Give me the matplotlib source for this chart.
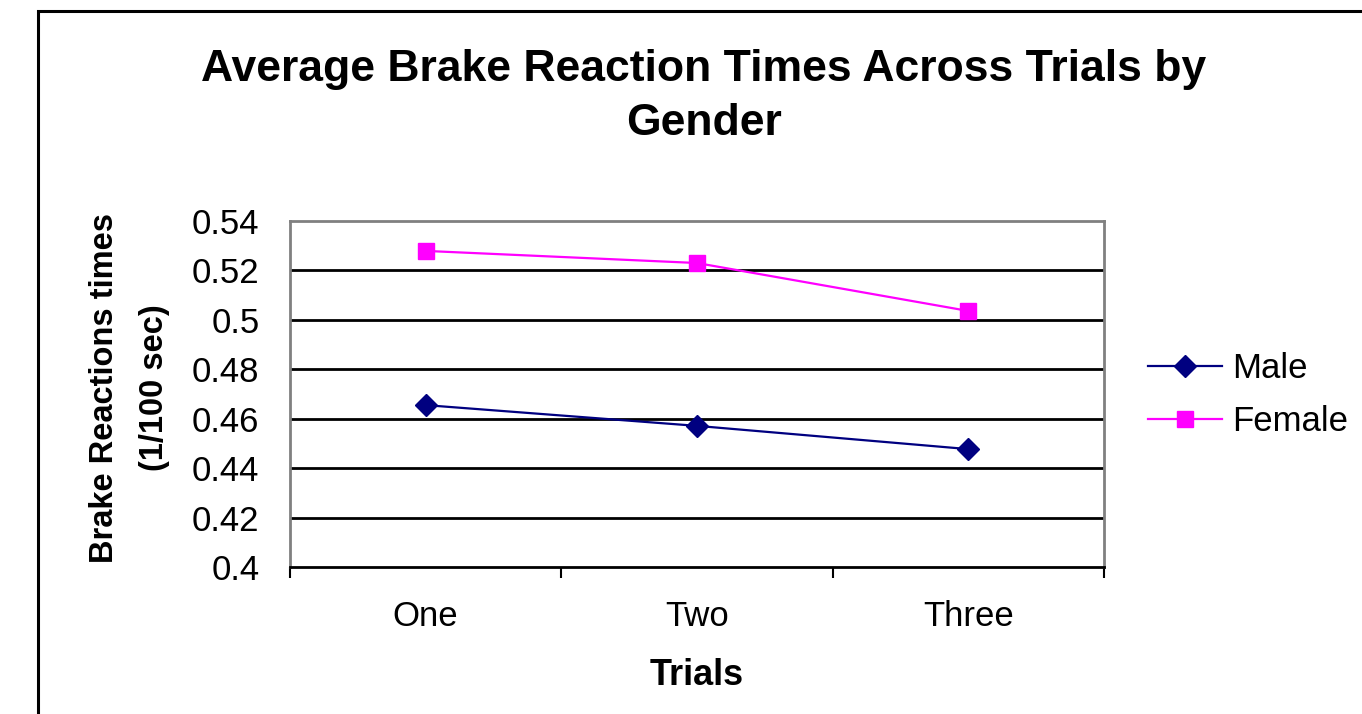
import matplotlib.pyplot as plt
from matplotlib.patches import Rectangle

plt.rcParams["font.family"] = ["Liberation Sans", "DejaVu Sans"]

trials = ["One", "Two", "Three"]
male = [0.4655, 0.4571, 0.4477]
female = [0.5279, 0.5230, 0.5036]
y_ticks = [0.4, 0.42, 0.44, 0.46, 0.48, 0.5, 0.52, 0.54]
y_labels = ["0.4", "0.42", "0.44", "0.46", "0.48", "0.5", "0.52", "0.54"]

fig = plt.figure(figsize=(13.62, 7.14), dpi=100)
W, H = 1362, 714

# outer chart border (cut off by the image edge)
fig.patches.append(Rectangle((38 / W, -0.1), 1.2, (H - 11) / H + 0.1, transform=fig.transFigure,
                             fill=False, edgecolor="black", linewidth=2.2))

ax = fig.add_axes([290 / W, 1 - 567 / H, 814 / W, 346 / H])
x = range(len(trials))
ax.plot(x, male, color="#000080", marker="D", markersize=11, linewidth=1.6, label="Male")
ax.plot(x, female, color="#FF00FF", marker="s", markersize=11.5, linewidth=1.6, label="Female")

ax.set_xlim(-0.5, 2.5)
ax.set_ylim(0.4, 0.54)
ax.set_yticks(y_ticks)
ax.set_yticklabels(y_labels, fontsize=25)
ax.set_xticks([-0.5, 0.5, 1.5, 2.5])
ax.set_xticklabels([])
ax.set_xticks(list(x), minor=True)
ax.set_xticklabels(trials, minor=True, fontsize=25)
ax.tick_params(axis="x", which="major", direction="out", length=8, width=1.5, color="black")
ax.tick_params(axis="x", which="minor", length=0, pad=24)
ax.tick_params(axis="y", length=0, pad=22)
for yv in y_ticks[1:-1]:
    ax.axhline(yv, color="black", linewidth=2, zorder=1)
for s in ["top", "left", "right"]:
    ax.spines[s].set_color("#808080")
    ax.spines[s].set_linewidth(2)
ax.spines["bottom"].set_color("black")
ax.spines["bottom"].set_linewidth(2)

ax.set_xlabel("Trials", fontsize=26, fontweight="bold", labelpad=18)
ax.set_ylabel("Brake Reactions times\n(1/100 sec)", fontsize=23.5, fontweight="bold",
              linespacing=1.8)
ax.yaxis.set_label_coords((170 - 290) / 814, (567 - 388) / 346)

fig.suptitle("Average Brake Reaction Times Across Trials by\nGender", x=704 / W, y=1 - 49 / H,
             fontsize=32, fontweight="bold", linespacing=1.4)

ax.legend(loc="center left", bbox_to_anchor=(1148 / W, 1 - 395 / H), bbox_transform=fig.transFigure,
          frameon=False, fontsize=25, borderpad=0, borderaxespad=0,
          handlelength=2.13, labelspacing=0.58, handletextpad=0.29)

fig.savefig("out.png", dpi=100, facecolor="white")
